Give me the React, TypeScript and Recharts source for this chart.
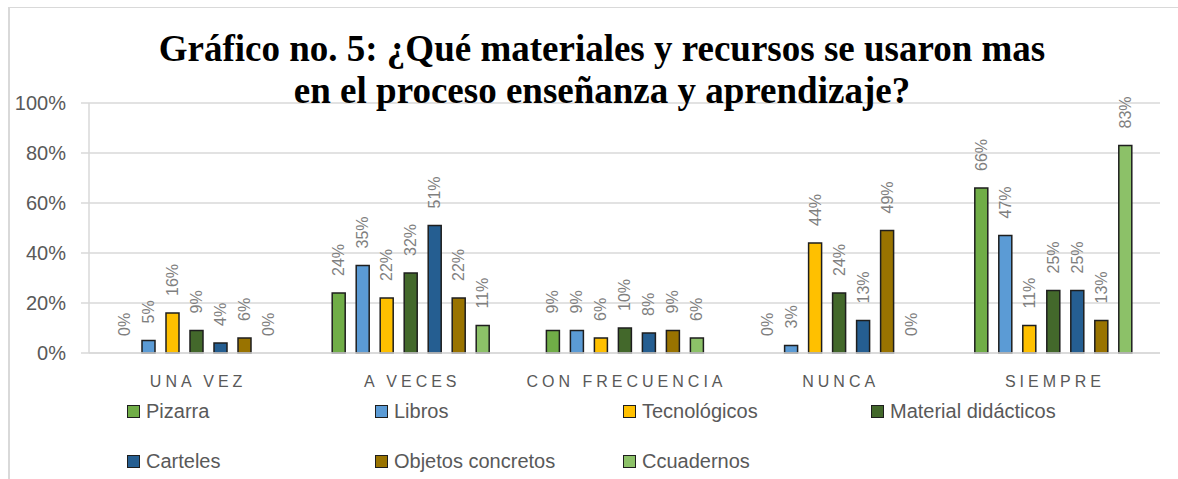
import React from "react";
import { BarChart, Bar, XAxis, YAxis, CartesianGrid, Rectangle } from "recharts";

const categories = ["UNA VEZ", "A VECES", "CON FRECUENCIA", "NUNCA", "SIEMPRE"];
const pizarra = [0, 24, 9, 0, 66];
const libros = [5, 35, 9, 3, 47];
const tecnologicos = [16, 22, 6, 44, 11];
const material = [9, 32, 10, 24, 25];
const carteles = [4, 51, 8, 13, 25];
const objetos = [6, 22, 9, 49, 13];
const cuadernos = [0, 11, 6, 0, 83];
const seriesNames = ["Pizarra", "Libros", "Tecnológicos", "Material didácticos", "Carteles", "Objetos concretos", "Ccuadernos"];
const seriesColors = ["#70AD47", "#5B9BD5", "#FFC000", "#43682B", "#255E91", "#997300", "#8CC168"];
const yTicks = [0, 20, 40, 60, 80, 100];
const titleLines = [
  "Gráfico no. 5: ¿Qué materiales y recursos se usaron mas",
  "en el proceso enseñanza y aprendizaje?",
];

const seriesValues = [pizarra, libros, tecnologicos, material, carteles, objetos, cuadernos];
const data = categories.map((cat, i) => {
  const row: Record<string, any> = { cat };
  seriesValues.forEach((vals, s) => {
    row["s" + s] = vals[i];
  });
  return row;
});

const SANS = "'Liberation Sans', Arial, sans-serif";

const makeShape = (s: number) => (props: any) => {
  const { x, y, width, height, payload } = props;
  const value = payload ? payload["s" + s] : props.value;
  const cx = Number(x) + Number(width) / 2;
  const top = Math.min(Number(y), Number(y) + Number(height));
  const ty = top - 17;
  return (
    <g>
      {Math.abs(Number(height)) > 0 && (
        <Rectangle x={x} y={y} width={width} height={height} fill={seriesColors[s]} stroke="#1e1e1e" strokeWidth={1.5} />
      )}
      <text
        x={cx}
        y={ty}
        transform={`rotate(-90 ${cx} ${ty})`}
        textAnchor="start"
        dominantBaseline="central"
        fill="#7f7f7f"
        fontSize={16}
        fontFamily={SANS}
      >
        {value}%
      </text>
    </g>
  );
};

const XTick = (props: any) => {
  const { x, y, payload } = props;
  return (
    <text
      x={x + 2}
      y={y + 34}
      textAnchor="middle"
      fill="#595959"
      fontSize={16}
      fontFamily={SANS}
      letterSpacing={4}
    >
      {payload.value}
    </text>
  );
};

export default function App() {
  return (
    <div style={{ position: "absolute", left: 0, top: 0, width: 1178, height: 479, background: "#fff", overflow: "hidden" }}>
      <div
        style={{
          position: "absolute",
          left: 8,
          top: 7,
          width: 1200,
          height: 500,
          borderLeft: "2px solid #d9d9d9",
          borderTop: "1px solid #d9d9d9",
        }}
      />
      <div style={{ position: "absolute", left: 0, top: 0 }}>
        <BarChart
          width={1178}
          height={479}
          data={data}
          margin={{ top: 103, right: 18, bottom: 96, left: 19 }}
          barSize={13}
          barGap={11}
        >
          <CartesianGrid vertical={false} stroke="#d9d9d9" strokeWidth={1.5} />
          <XAxis
            dataKey="cat"
            height={30}
            interval={0}
            tickLine={false}
            tickSize={0}
            tickMargin={0}
            axisLine={{ stroke: "#d9d9d9", strokeWidth: 1.5 }}
            tick={<XTick />}
          />
          <YAxis
            width={70}
            domain={[0, 100]}
            ticks={yTicks}
            interval={0}
            tickFormatter={(v: number) => v + "%"}
            axisLine={{ stroke: "#d9d9d9", strokeWidth: 1.5 }}
            tickLine={{ stroke: "#d9d9d9", strokeWidth: 1.5 }}
            tickSize={8}
            tickMargin={15}
            tick={{ fill: "#595959", fontSize: 20, fontFamily: SANS }}
          />
          {seriesNames.map((name, s) => (
            <Bar
              key={name}
              dataKey={"s" + s}
              name={name}
              fill={seriesColors[s]}
              stroke="#1e1e1e"
              strokeWidth={1.5}
              shape={makeShape(s)}
              isAnimationActive={false}
            />
          ))}
        </BarChart>
      </div>
      <div
        style={{
          position: "absolute",
          left: 0,
          top: 27.5,
          width: 1204,
          textAlign: "center",
          fontFamily: "'Times New Roman', 'Liberation Serif', serif",
          fontWeight: "bold",
          fontSize: 37,
          lineHeight: "42px",
          color: "#000",
          whiteSpace: "nowrap",
        }}
      >
        {titleLines.map((l) => (
          <div key={l}>{l}</div>
        ))}
      </div>
      {seriesNames.map((name, s) => {
        const col = s < 4 ? s : s - 4;
        const row = s < 4 ? 0 : 1;
        return (
          <div
            key={name}
            style={{
              position: "absolute",
              left: 127 + col * 248,
              top: 411 + row * 50 - 12,
              height: 24,
              display: "flex",
              alignItems: "center",
              fontFamily: SANS,
              fontSize: 20,
              color: "#595959",
              whiteSpace: "nowrap",
            }}
          >
            <span
              style={{
                display: "inline-block",
                width: 11,
                height: 11,
                background: seriesColors[s],
                border: "1.5px solid #1e1e1e",
                marginRight: 6,
              }}
            />
            {name}
          </div>
        );
      })}
    </div>
  );
}
